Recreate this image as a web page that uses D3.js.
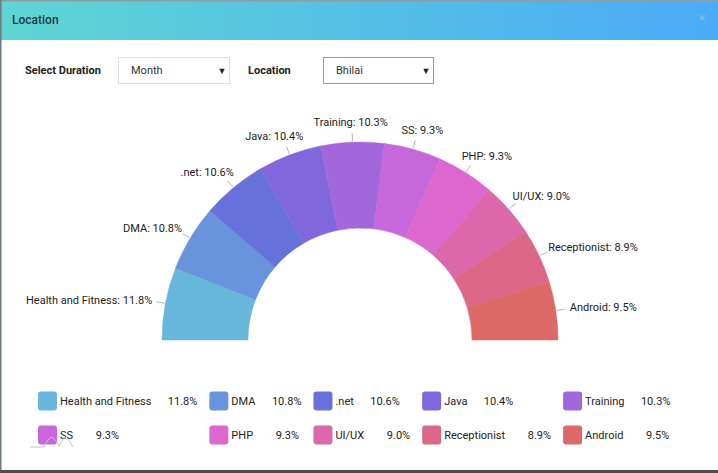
<!DOCTYPE html>
<html>
<head>
<meta charset="utf-8">
<script src="https://cdn.jsdelivr.net/npm/d3@7"></script>
<style>
  body { margin: 0; background: #fff; }
  svg { display: block; font-family: Roboto, "Noto Sans", sans-serif; }
</style>
</head>
<body>
<svg id="chart" width="718" height="473"></svg>
<script>
const categories = ["Health and Fitness", "DMA", ".net", "Java", "Training", "SS", "PHP", "UI/UX", "Receptionist", "Android"];
const shares = [11.8, 10.8, 10.6, 10.4, 10.3, 9.3, 9.3, 9.0, 8.9, 9.5];
const colors = ["#67b7dc", "#6794dc", "#6771dc", "#8067dc", "#a367dc", "#c767dc", "#dc67ce", "#dc67ab", "#dc6788", "#dc6967"];
const durationOptions = ["Month"];
const locationOptions = ["Bhilai"];

const data = categories.map((c, i) => ({ name: c, value: shares[i] }));
const W = 718, H = 473;
const svg = d3.select("#chart");

// modal frame + header
const defs = svg.append("defs");
const grad = defs.append("linearGradient").attr("id", "hdr").attr("x1", "0%").attr("x2", "100%");
grad.append("stop").attr("offset", "0%").attr("stop-color", "#5fd5d3");
grad.append("stop").attr("offset", "100%").attr("stop-color", "#4aabf8");

svg.append("rect").attr("width", W).attr("height", H).attr("fill", "#fff");
svg.append("rect").attr("x", 0).attr("y", 0).attr("width", W).attr("height", 40).attr("fill", "url(#hdr)");
svg.append("rect").attr("x", 0).attr("y", 0).attr("width", W).attr("height", 1.5).attr("fill", "#8e9ea4");
svg.append("rect").attr("x", 0).attr("y", 0).attr("width", 1.5).attr("height", 471).attr("fill", "#6f7a80");
svg.append("rect").attr("x", 0).attr("y", 470).attr("width", W).attr("height", 3).attr("fill", "#4d4d4d");

svg.append("text").attr("x", 12).attr("y", 24)
  .attr("font-size", 12).attr("font-weight", 500).attr("fill", "#1d3947")
  .text("Location");
svg.append("text").attr("x", 702).attr("y", 22).attr("text-anchor", "middle")
  .attr("font-size", 13).attr("fill", "#8fb8d8").text("×");

// filter controls
function control(label, lx, bx, bw, value, border) {
  svg.append("text").attr("x", lx).attr("y", 74)
    .attr("font-size", 11).attr("font-weight", 700).attr("fill", "#222").text(label);
  svg.append("rect").attr("x", bx + 0.5).attr("y", 57.5).attr("width", bw).attr("height", 26)
    .attr("fill", "#fff").attr("stroke", border);
  svg.append("text").attr("x", bx + 13).attr("y", 74)
    .attr("font-size", 11).attr("fill", "#333").text(value);
  svg.append("text").attr("x", bx + bw - 7).attr("y", 74).attr("text-anchor", "middle")
    .attr("font-size", 9).attr("fill", "#222").text("▼");
}
control("Select Duration", 25, 118, 111, durationOptions[0], "#dedede");
control("Location", 248, 323, 110, locationOptions[0], "#4fb6cc");

// semi donut
const cx = 360, cy = 340, rOuter = 198, rInner = 112;
const pie = d3.pie().value(d => d.value).sort(null)
  .startAngle(-Math.PI / 2).endAngle(Math.PI / 2);
const arc = d3.arc().innerRadius(rInner).outerRadius(rOuter);
const arcs = pie(data);

const g = svg.append("g").attr("transform", `translate(${cx},${cy})`);
g.selectAll("path.slice")
  .data(arcs)
  .join("path")
  .attr("class", "slice")
  .attr("d", arc)
  .attr("fill", (d, i) => colors[i])
  .attr("stroke", (d, i) => colors[i])
  .attr("stroke-width", 0.5);

const polar = (r, a) => [r * Math.sin(a), -r * Math.cos(a)];

g.selectAll("line.tick")
  .data(arcs)
  .join("line")
  .attr("class", "tick")
  .each(function (d) {
    const a = (d.startAngle + d.endAngle) / 2;
    const p0 = polar(rOuter + 1, a), p1 = polar(rOuter + 9, a);
    d3.select(this).attr("x1", p0[0]).attr("y1", p0[1]).attr("x2", p1[0]).attr("y2", p1[1]);
  })
  .attr("stroke", "#b5b5b5").attr("stroke-width", 1);

const labelRx = 212.5, labelRy = 218;
g.selectAll("text.lbl")
  .data(arcs)
  .join("text")
  .attr("class", "lbl")
  .attr("font-size", 11)
  .attr("fill", "#222")
  .attr("text-anchor", "middle")
  .attr("dy", "0.35em")
  .text(d => `${d.data.name}: ${d.data.value.toFixed(1)}%`)
  .each(function (d) {
    const a = (d.startAngle + d.endAngle) / 2;
    const w = this.getComputedTextLength();
    const s = Math.sin(a);
    const px = labelRx * s, py = -labelRy * Math.cos(a);
    d3.select(this).attr("x", px + s * w / 2).attr("y", py);
  });

// legend
const legendX = 38, legendY = [401, 435], perRow = 5, colGap = 12, swatch = 19, valueCell = 46;
const legend = svg.append("g");
const items = legend.selectAll("g.item")
  .data(data)
  .join("g")
  .attr("class", "item");

items.append("rect")
  .attr("width", swatch).attr("height", swatch).attr("rx", 3)
  .attr("y", -swatch / 2)
  .attr("fill", (d, i) => colors[i]);
items.append("text").attr("class", "name")
  .attr("x", swatch + 3).attr("dy", "0.35em")
  .attr("font-size", 11).attr("fill", "#222")
  .text(d => d.name);
items.append("text").attr("class", "val")
  .attr("text-anchor", "end").attr("dy", "0.35em")
  .attr("font-size", 11).attr("fill", "#222")
  .text(d => d.value.toFixed(1) + "%");

const itemW = [];
items.each(function (d, i) {
  const nw = d3.select(this).select("text.name").node().getComputedTextLength();
  const end = swatch + 3 + nw + valueCell;
  d3.select(this).select("text.val").attr("x", end);
  itemW[i] = end;
});
const colW = d3.range(perRow).map(c => d3.max(itemW.filter((w, i) => i % perRow === c)));
const colX = [legendX];
for (let c = 1; c < perRow; c++) colX[c] = colX[c - 1] + colW[c - 1] + colGap;
items.attr("transform", (d, i) => `translate(${colX[i % perRow]},${legendY[Math.floor(i / perRow)]})`);

// faint hover trace left on the legend
svg.append("path")
  .attr("d", "M30,447 L44,447 Q48,438 52,437 Q56,440 59,446 Q63,438 66,437 Q70,441 73,447")
  .attr("fill", "none").attr("stroke", "#c4c4c4").attr("stroke-width", 1);
</script>
</body>
</html>
